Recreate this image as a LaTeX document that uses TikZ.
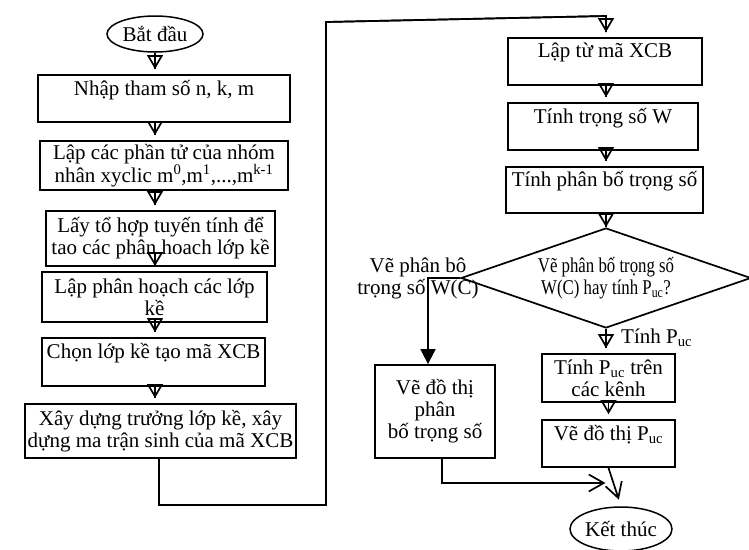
\documentclass[tikz,border=0pt]{standalone}
\usepackage{fontspec}
\setmainfont{Liberation Serif}
\newfontfamily\condfont[FakeStretch=0.8]{Liberation Serif}
\usetikzlibrary{arrows.meta,shapes.geometric}
\begin{document}
\begin{tikzpicture}[x=1pt,y=-1pt,
  every node/.style={font=\fontsize{21}{22}\selectfont, inner sep=0pt, align=center},
  boxnode/.style={draw, line width=1.8pt, rectangle},
  termnode/.style={draw, line width=1.5pt, ellipse},
  ln/.style={line width=1.7pt},
  arr/.style={ln, -{Triangle[open,length=14pt,width=16pt,line width=1.7pt]}, shorten >=5pt,
    postaction={draw,-,line width=1.7pt,shorten >=5pt}},
  barb/.style={ln, -{Straight Barb[length=15pt,width=17pt,line width=1.7pt]}}
]
\fill[white] (0,0) rectangle (749,549);
\useasboundingbox (0,0) rectangle (749,549);

% left column
\node[termnode, minimum width=96pt, minimum height=36pt] (start) at (155,34) {Bắt đầu};
\node[boxnode, minimum width=252pt, minimum height=47pt] (b1) at (164,98.5) {Nhập tham số n, k, m\\\mbox{}};
\node[boxnode, minimum width=248pt, minimum height=49pt] (b2) at (164,165.5) {Lập các phần tử của nhóm\\nhân xyclic m\textsuperscript{0},m\textsuperscript{1},...,m\textsuperscript{k-1}};
\node[boxnode, minimum width=229pt, minimum height=55pt] (b3) at (160.5,238.5) {Lấy tổ hợp tuyến tính để\\tao các phân hoach lớp kề};
\node[boxnode, minimum width=225pt, minimum height=50pt] (b4) at (154.5,297) {Lập phân hoạch các lớp\\kề};
\node[boxnode, minimum width=223pt, minimum height=48pt] (b5) at (153.5,362) {Chọn lớp kề tạo mã XCB\\\mbox{}};
\node[boxnode, minimum width=271pt, minimum height=54pt] (b6) at (160.5,431) {Xây dựng trưởng lớp kề, xây\\dựng ma trận sinh của mã XCB};

% right column
\node[boxnode, minimum width=194pt, minimum height=47pt] (r1) at (605,61.5) {Lập từ mã XCB\\\mbox{}};
\node[boxnode, minimum width=190pt, minimum height=47pt] (r2) at (603,126.5) {Tính trọng số W\\\mbox{}};
\node[boxnode, minimum width=197pt, minimum height=46pt] (r3) at (604.5,190) {Tính phân bố trọng số\\\mbox{}};
\node[draw, line width=1.7pt, diamond, aspect=2.9, minimum width=290pt, minimum height=100pt] (dec) at (606,278)
  {\condfont Vẽ phân bố trọng số\\\condfont W(C) hay tính P\textsubscript{uc}?};
\node (lbl1) at (418,278) {Vẽ phân bô\\trọng số W(C)};
\node[anchor=west] (lbl2) at (621,338) {Tính P\textsubscript{uc}};
\node[boxnode, minimum width=120pt, minimum height=93pt] (lb) at (435,411.5) {Vẽ đồ thị\\phân\\bố trọng số};
\node[boxnode, minimum width=133pt, minimum height=48pt] (r4) at (608.5,378) {Tính P\textsubscript{uc} trên\\các kênh};
\node[boxnode, minimum width=133pt, minimum height=47pt] (r5) at (608.5,443.5) {Vẽ đồ thị P\textsubscript{uc}\\\mbox{}};
\node[termnode, minimum width=102pt, minimum height=44pt] (stop) at (621,529) {Kết thúc};

% coordinates
\coordinate (k1) at (159,505);
\coordinate (k2) at (326,505);
\coordinate (k3) at (326,22);
\coordinate (k4) at (606,16);
\coordinate (k5) at (428,278);
\coordinate (k6) at (442,483);

% left column connectors
\draw[arr] (start.south) -- (start.south |- b1.north);
\draw[arr] (b1.south -| start) -- (b2.north -| start);
\draw[arr] (b2.south -| start) -- (b3.north -| start);
\draw[arr] (b3.south -| start) -- (b4.north -| start);
\draw[arr] (b4.south -| start) -- (b5.north -| start);
\draw[arr] (b5.south -| start) -- (b6.north -| start);

% long connector
\draw[arr] (b6.south -| k1) -- (k1) -- (k2) -- (k3) -- (k4) -- (r1.north -| k4);

% right column connectors
\draw[arr] (r1.south -| k4) -- (r2.north -| k4);
\draw[arr] (r2.south -| k4) -- (r3.north -| k4);
\draw[arr, shorten >=0pt, postaction={draw,-,shorten >=0pt}] (r3.south -| dec.north) -- (dec.north);
\draw[ln, -{Triangle[length=15pt,width=15pt]}] (dec.west) -- (k5) -- (k5 |- lb.north);
\draw[arr] (dec.south) -- (dec.south |- r4.north);
\draw[arr] (r4.south) -- (r5.north);
\draw[barb, shorten >=7pt] (r5.south) -- (stop.north);
\draw[barb, shorten >=3pt] (lb.south -| k6) -- (k6) -- (k6 -| r5.south);
\end{tikzpicture}
\end{document}
